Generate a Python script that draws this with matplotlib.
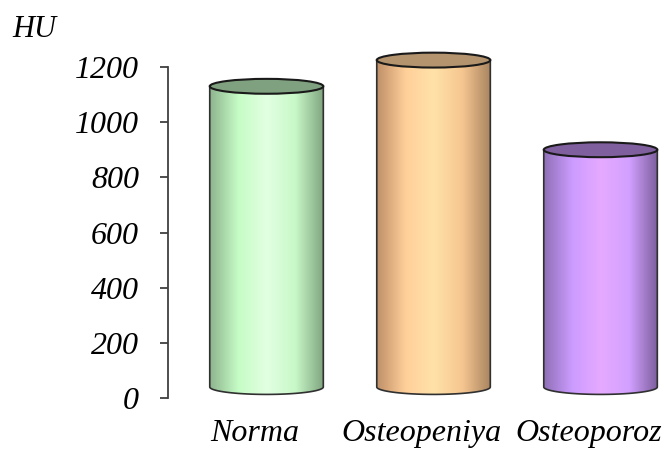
import matplotlib.pyplot as plt
import numpy as np
from matplotlib.patches import Ellipse, PathPatch
from matplotlib.path import Path

categories = ['Norma', 'Osteopeniya', 'Osteoporoz']
values = [1130, 1225, 900]
yticks = [0, 200, 400, 600, 800, 1000, 1200]

# shading stops across each cylinder (left edge -> right edge) and lid colour
body_stops = [
    ['#8fb58f', '#c6fcc6', '#e2ffe2', '#c8f8c8', '#7fa47f'],
    ['#c09068', '#ffcf9a', '#ffe2a8', '#f6c690', '#a88460'],
    ['#9070b8', '#cc9cff', '#e6aaff', '#d2a0ff', '#7c5e9c'],
]
lid_colors = ['#7fa17f', '#b3946e', '#7f5f9e']

plt.rcParams['font.family'] = ['Liberation Serif', 'DejaVu Serif']
plt.rcParams['font.style'] = 'italic'

fig = plt.figure(figsize=(6.64, 4.5), dpi=100)
# y range runs a little past 1200 so the tallest lid is not cut
ymax = 1260
px_per_unit = 331 / 1200
ax_h = ymax * px_per_unit
ax = fig.add_axes([168 / 664, 52 / 450, 496 / 664, ax_h / 450])

width = 0.68
base = 40
ry = 27
stop_pos = np.linspace(0, 1, 5)


def to_rgb(h):
    h = h.lstrip('#')
    return [int(h[i:i + 2], 16) / 255 for i in (0, 2, 4)]


for i, (v, stops, lid) in enumerate(zip(values, body_stops, lid_colors)):
    x0, x1 = i - width / 2, i + width / 2
    t = np.linspace(0, 1, 200)
    rgb = np.array([to_rgb(c) for c in stops])
    row = np.stack([np.interp(t, stop_pos, rgb[:, k]) for k in range(3)], axis=1)
    img = np.repeat(row[None, :, :], 2, axis=0)

    # body outline: sides, flat top, lower half of the base ellipse
    th = np.linspace(0, np.pi, 60)
    bx = i + width / 2 * np.cos(th)
    by = base - ry * np.sin(th)
    verts = [(x0, v), (x1, v)] + list(zip(bx, by)) + [(x0, v)]
    codes = [Path.MOVETO] + [Path.LINETO] * (len(verts) - 2) + [Path.CLOSEPOLY]
    body = PathPatch(Path(verts, codes), facecolor='none', edgecolor='#303030',
                     lw=1.2, zorder=3, clip_on=False)
    ax.add_patch(body)
    im = ax.imshow(img, extent=(x0, x1, base - ry, v), aspect='auto',
                   origin='lower', zorder=2, interpolation='bilinear')
    im.set_clip_path(body)

    lid_patch = Ellipse((i, v), width, 2 * ry, facecolor=lid, edgecolor='#1a1a1a',
                        lw=1.5, zorder=4, clip_on=False)
    ax.add_patch(lid_patch)

ax.set_xlim(-0.59, 2.38)
ax.set_ylim(0, ymax)
ax.set_yticks(yticks)
ax.set_xticks([])

for s in ['top', 'right', 'bottom']:
    ax.spines[s].set_visible(False)
ax.spines['left'].set_color('#404040')
ax.spines['left'].set_linewidth(1.3)
ax.spines['left'].set_bounds(0, 1200)
ax.tick_params(axis='y', direction='out', length=6, width=1.3, color='#404040',
               labelsize=23, pad=15)

for i, name in enumerate(categories):
    ax.text(i - 0.07, -155, name, ha='center', va='baseline', fontsize=23,
            style='italic', clip_on=False)

fig.text(12 / 664, 1 - 37 / 450, 'HU', fontsize=22, style='italic',
         ha='left', va='baseline')

fig.savefig('out.png', dpi=100)
